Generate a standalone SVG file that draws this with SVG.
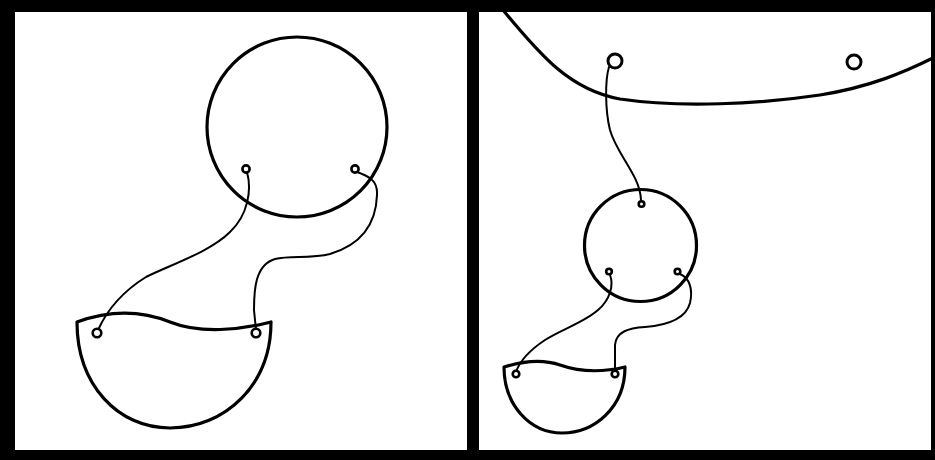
<svg xmlns="http://www.w3.org/2000/svg" width="935" height="460" viewBox="0 0 935 460">
<style>
.o{fill:none;stroke:#000;stroke-width:3.2;stroke-linejoin:round;stroke-linecap:round}
.s{fill:none;stroke:#000;stroke-width:2;stroke-linecap:round}
.r{fill:#fff;stroke:#000;stroke-width:2.6}
.R{fill:#fff;stroke:#000;stroke-width:3}
</style>
<rect x="0" y="0" width="935" height="460" fill="#000"/>
<rect x="15" y="12" width="452" height="438" fill="#fff"/>
<rect x="479" y="12" width="452" height="438" fill="#fff"/>
<g id="left-panel">
  <g id="left-circle">
    <circle class="o" cx="297" cy="127" r="90"/>
  </g>
  <g id="left-bowl">
    <path class="o" d="M77,322 C110,310 140,310 170,322 C200,334 240,330 271,322 C271,385 225,428 170,428 C118,428 77,385 77,322 Z"/>
  </g>
  <g id="left-strings">
    <path class="s" d="M247,172 C252,190 248,215 230,232 C210,252 170,265 146,277 C125,290 108,308 98,330"/>
    <path class="s" d="M357,172 C368,176 378,180 377,195 C376,225 360,245 330,254 C310,259 290,255 275,259 C255,265 254,290 254,310 L256,330"/>
  </g>
  <g id="left-rings">
    <circle class="r" cx="246" cy="169" r="3.6"/>
    <circle class="r" cx="355" cy="169" r="3.6"/>
    <circle class="r" cx="97" cy="333" r="4.3"/>
    <circle class="r" cx="256" cy="333" r="4.3"/>
  </g>
</g>
<g id="right-panel">
  <g id="top-curve">
    <path class="o" d="M503,10 C540,55 570,90 620,99 C680,108 760,104 820,95 C870,87 905,72 935,57"/>
    <circle class="R" cx="615" cy="61" r="7"/>
    <circle class="R" cx="854" cy="62" r="7"/>
  </g>
  <g id="right-circle">
    <circle class="o" cx="640.5" cy="245.5" r="56"/>
  </g>
  <g id="right-bowl">
    <path class="o" d="M504,367 C520,362 540,358 560,365 C580,372 600,373 625,367 C625,408 594,433 562,433 C530,433 504,405 504,367 Z"/>
  </g>
  <g id="right-strings">
    <path class="s" d="M609,67 C605,80 605,110 610,130 C617,155 640,175 641,200"/>
    <path class="s" d="M610,275 C614,285 610,300 598,310 C585,322 560,330 545,340 C530,350 520,360 516,372"/>
    <path class="s" d="M680,274 C690,278 693,290 690,303 C686,318 670,325 645,327 C628,328 616,332 615,345 L615,372"/>
  </g>
  <g id="right-rings">
    <circle class="r" cx="641.5" cy="204" r="2.8"/>
    <circle class="r" cx="609" cy="271.5" r="2.8"/>
    <circle class="r" cx="677.5" cy="271.5" r="2.8"/>
    <circle class="r" cx="516" cy="374" r="3.3"/>
    <circle class="r" cx="615" cy="374" r="3.3"/>
  </g>
</g>
</svg>
